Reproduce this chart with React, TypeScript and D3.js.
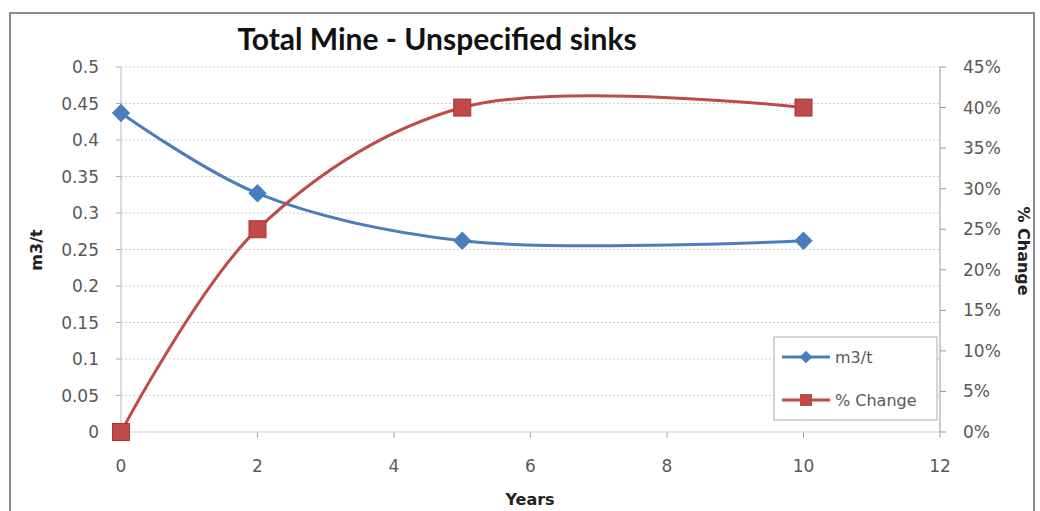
import React from "react";
import * as d3 from "d3";

const years = [0, 2, 5, 10];
const m3t = [0.437, 0.327, 0.262, 0.262];
const pctChange = [0, 0.25, 0.4, 0.4];
const leftTicks = [0, 0.05, 0.1, 0.15, 0.2, 0.25, 0.3, 0.35, 0.4, 0.45, 0.5];
const rightTicks = [0, 0.05, 0.1, 0.15, 0.2, 0.25, 0.3, 0.35, 0.4, 0.45];
const xTicks = [0, 2, 4, 6, 8, 10, 12];

const W = 1040, H = 511;
const TFONT = "Lato, 'Open Sans', sans-serif";
const FONT = "'DejaVu Sans', sans-serif";
const BLUE = "#4a7ebb";
const RED = "#be4b48";

export default function App() {
  const x = d3.scaleLinear().domain([0, 12]).range([121, 940]);
  const yL = d3.scaleLinear().domain([0, 0.5]).range([432, 67]);
  const yR = d3.scaleLinear().domain([0, 0.45]).range([432, 67]);
  const lineL = d3.line<number>().x((_, i) => x(years[i])).y((d) => yL(d)).curve(d3.curveCatmullRom.alpha(0.5));
  const lineR = d3.line<number>().x((_, i) => x(years[i])).y((d) => yR(d)).curve(d3.curveCatmullRom.alpha(0.5));
  return (
    <svg width={W} height={H} style={{ position: "absolute", left: 0, top: 0, background: "#fff" }}>
      <rect x={10} y={13} width={1024} height={520} fill="#fff" stroke="#8c8c8c" strokeWidth={2} />
      <text x={437} y={50} textAnchor="middle" fontFamily={TFONT} fontWeight="bold" fontSize={30} fill="#111">Total Mine - Unspecified sinks</text>
      {leftTicks.map((t) => (
        <line key={"g" + t} x1={121} x2={940} y1={yL(t)} y2={yL(t)} stroke="#cfcfcf" strokeWidth={1} strokeDasharray={t === 0 ? undefined : "2,2"} />
      ))}
      <line x1={121} x2={121} y1={67} y2={432} stroke="#b8b8b8" />
      <line x1={940} x2={940} y1={67} y2={432} stroke="#999" />
      {leftTicks.map((t) => (
        <g key={"l" + t}>
          <line x1={116} x2={121} y1={yL(t)} y2={yL(t)} stroke="#aaa" />
          <text x={99} y={yL(t) + 6} textAnchor="end" fontFamily={FONT} fontSize={17} fill="#595959">{String(t)}</text>
        </g>
      ))}
      {rightTicks.map((t) => (
        <g key={"r" + t}>
          <line x1={940} x2={946} y1={yR(t)} y2={yR(t)} stroke="#999" />
          <text x={963} y={yR(t) + 6} textAnchor="start" fontFamily={FONT} fontSize={17} fill="#595959">{Math.round(t * 100) + "%"}</text>
        </g>
      ))}
      {xTicks.map((t) => (
        <g key={"x" + t}>
          <line x1={x(t)} x2={x(t)} y1={432} y2={438} stroke="#aaa" />
          <text x={x(t)} y={472} textAnchor="middle" fontFamily={FONT} fontSize={17} fill="#595959">{t}</text>
        </g>
      ))}
      <text x={530} y={505} textAnchor="middle" fontFamily={FONT} fontWeight="bold" fontSize={16} fill="#222">Years</text>
      <text transform="translate(42,250) rotate(-90)" textAnchor="middle" fontFamily={FONT} fontWeight="bold" fontSize={16} fill="#222">m3/t</text>
      <text transform="translate(1018,251) rotate(90)" textAnchor="middle" fontFamily={FONT} fontWeight="bold" fontSize={16} fill="#222">% Change</text>
      <path d={lineL(m3t) || ""} fill="none" stroke={BLUE} strokeWidth={3} />
      <path d={lineR(pctChange) || ""} fill="none" stroke={RED} strokeWidth={3} />
      {m3t.map((v, i) => (
        <rect key={"b" + i} x={-6.5} y={-6.5} width={13} height={13} fill={BLUE}
          transform={`translate(${x(years[i])},${yL(v)}) rotate(45)`} />
      ))}
      {pctChange.map((v, i) => (
        <rect key={"s" + i} x={x(years[i]) - 8.5} y={yR(v) - 8.5} width={17} height={17} fill={RED} stroke="#a33" strokeWidth={1} />
      ))}
      <rect x={774} y={337} width={163} height={83} fill="#fff" stroke="#aaa" />
      <line x1={782} x2={830} y1={357} y2={357} stroke={BLUE} strokeWidth={3} />
      <rect x={-4.5} y={-4.5} width={9} height={9} fill={BLUE} transform="translate(806,357) rotate(45)" />
      <text x={835} y={363} fontFamily={FONT} fontSize={16} fill="#595959">m3/t</text>
      <line x1={782} x2={830} y1={400} y2={400} stroke={RED} strokeWidth={3} />
      <rect x={800} y={394} width={12} height={12} fill={RED} />
      <text x={835} y={406} fontFamily={FONT} fontSize={16} fill="#595959">% Change</text>
    </svg>
  );
}
